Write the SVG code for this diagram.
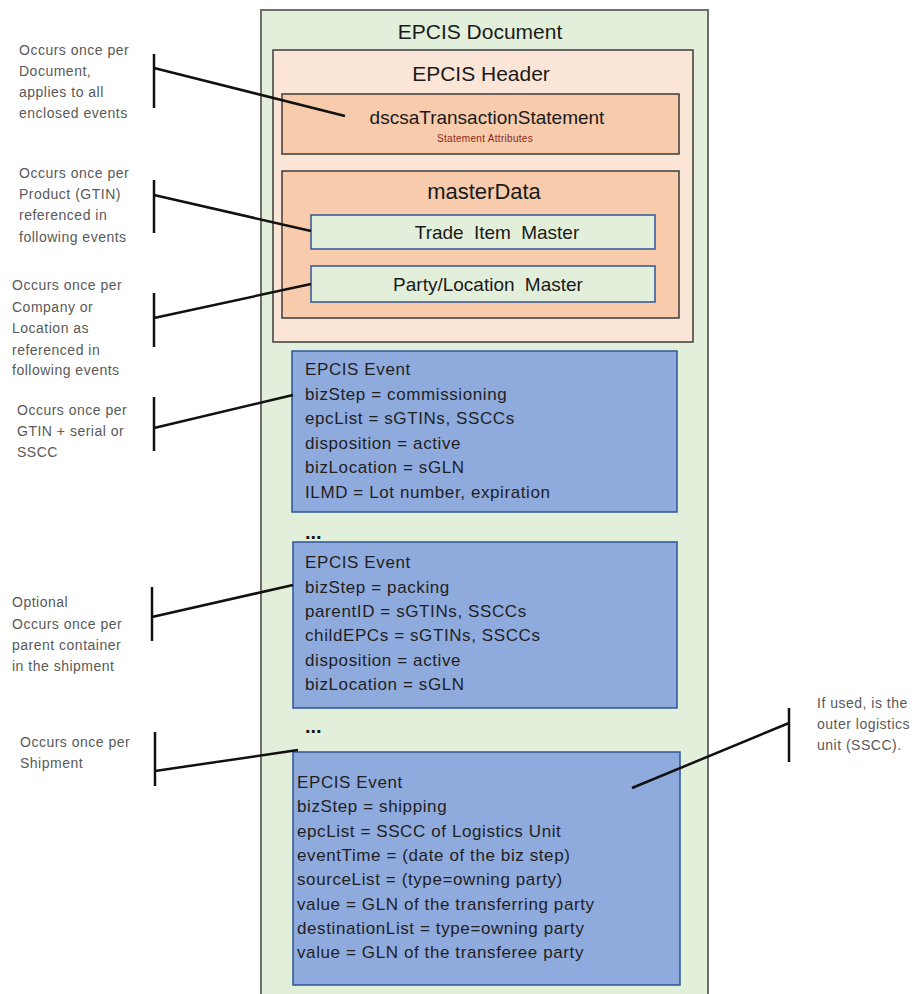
<svg xmlns="http://www.w3.org/2000/svg" width="920" height="994" viewBox="0 0 920 994">
<style>
.t{font-family:"Liberation Sans",Arial,sans-serif;fill:#1a1a1a}
.ann{font-family:"Liberation Sans",Arial,sans-serif;font-size:14px;fill:#595959;letter-spacing:0.5px}
.ev{font-family:"Liberation Sans",Arial,sans-serif;font-size:17px;fill:#1f1f1f;letter-spacing:0.6px}
.c{stroke:#111;stroke-width:2.5;fill:none}
</style>
<rect width="920" height="994" fill="#fff"/>
<g id="doc">
<rect x="261" y="10" width="447" height="1010" fill="#e2efda" stroke="#6e6e6e" stroke-width="2"/>
<text class="t" x="480" y="39" font-size="21" text-anchor="middle">EPCIS Document</text>
</g>
<g id="header">
<rect x="273" y="50" width="420" height="292" fill="#fbe5d6" stroke="#3c3c3c" stroke-width="1.5"/>
<text class="t" x="481" y="81" font-size="21" text-anchor="middle">EPCIS Header</text>
</g>
<g id="dscsa">
<rect x="282" y="94" width="397" height="60" fill="#f8cbad" stroke="#3c3c3c" stroke-width="1.5"/>
<text class="t" x="487" y="124" font-size="19" text-anchor="middle">dscsaTransactionStatement</text>
<text class="t" x="485" y="142" font-size="10" text-anchor="middle" letter-spacing="0.3" style="fill:#8b2a1a">Statement Attributes</text>
</g>
<g id="masterData">
<rect x="282" y="171" width="397" height="147" fill="#f8cbad" stroke="#3c3c3c" stroke-width="1.5"/>
<text class="t" x="484" y="199" font-size="22" text-anchor="middle">masterData</text>
</g>
<g id="tradeItem">
<rect x="311" y="215" width="344" height="34" fill="#e2efda" stroke="#2f5597" stroke-width="1.5"/>
<text class="t" x="497" y="239" font-size="19" text-anchor="middle" word-spacing="5">Trade Item Master</text>
</g>
<g id="partyLocation">
<rect x="311" y="266" width="344" height="36" fill="#e2efda" stroke="#2f5597" stroke-width="1.5"/>
<text class="t" x="488" y="291" font-size="19" text-anchor="middle" word-spacing="5">Party/Location Master</text>
</g>
<g id="event1">
<rect x="292" y="351" width="385" height="161" fill="#8faadc" stroke="#2f5597" stroke-width="1.5"/>
<text class="ev" x="305" y="375">EPCIS Event</text>
<text class="ev" x="305" y="400">bizStep = commissioning</text>
<text class="ev" x="305" y="424">epcList = sGTINs, SSCCs</text>
<text class="ev" x="305" y="449">disposition = active</text>
<text class="ev" x="305" y="473">bizLocation = sGLN</text>
<text class="ev" x="305" y="498">ILMD = Lot number, expiration</text>
</g>
<text class="t" x="305" y="539" font-size="20" font-weight="bold">...</text>
<g id="event2">
<rect x="293" y="542" width="384" height="166" fill="#8faadc" stroke="#2f5597" stroke-width="1.5"/>
<text class="ev" x="305" y="568">EPCIS Event</text>
<text class="ev" x="305" y="593">bizStep = packing</text>
<text class="ev" x="305" y="617">parentID = sGTINs, SSCCs</text>
<text class="ev" x="305" y="641">childEPCs = sGTINs, SSCCs</text>
<text class="ev" x="305" y="666">disposition = active</text>
<text class="ev" x="305" y="690">bizLocation = sGLN</text>
</g>
<text class="t" x="305" y="733" font-size="20" font-weight="bold">...</text>
<g id="event3">
<rect x="293" y="752" width="387" height="233" fill="#8faadc" stroke="#2f5597" stroke-width="1.5"/>
<text class="ev" x="297" y="788">EPCIS Event</text>
<text class="ev" x="297" y="812">bizStep = shipping</text>
<text class="ev" x="297" y="837">epcList = SSCC of Logistics Unit</text>
<text class="ev" x="297" y="861">eventTime = (date of the biz step)</text>
<text class="ev" x="297" y="885">sourceList = (type=owning party)</text>
<text class="ev" x="297" y="910">value = GLN of the transferring party</text>
<text class="ev" x="297" y="934">destinationList = type=owning party</text>
<text class="ev" x="297" y="958">value = GLN of the transferee party</text>
</g>
<g id="annotations">
<text class="ann" x="19" y="55">Occurs once per</text>
<text class="ann" x="19" y="76">Document,</text>
<text class="ann" x="19" y="97">applies to all</text>
<text class="ann" x="19" y="118">enclosed events</text>
<text class="ann" x="19" y="178">Occurs once per</text>
<text class="ann" x="19" y="199">Product (GTIN)</text>
<text class="ann" x="19" y="220">referenced in</text>
<text class="ann" x="19" y="242">following events</text>
<text class="ann" x="12" y="290">Occurs once per</text>
<text class="ann" x="12" y="312">Company or</text>
<text class="ann" x="12" y="333">Location as</text>
<text class="ann" x="12" y="355">referenced in</text>
<text class="ann" x="12" y="375">following events</text>
<text class="ann" x="17" y="415">Occurs once per</text>
<text class="ann" x="17" y="436">GTIN + serial or</text>
<text class="ann" x="17" y="457">SSCC</text>
<text class="ann" x="12" y="607">Optional</text>
<text class="ann" x="12" y="629">Occurs once per</text>
<text class="ann" x="12" y="650">parent container</text>
<text class="ann" x="12" y="671">in the shipment</text>
<text class="ann" x="20" y="747">Occurs once per</text>
<text class="ann" x="20" y="768">Shipment</text>
<text class="ann" x="817" y="708">If used, is the</text>
<text class="ann" x="817" y="729">outer logistics</text>
<text class="ann" x="817" y="750">unit (SSCC).</text>
</g>
<g id="connectors">
<path class="c" d="M154 54V108M154 68L345 116"/>
<path class="c" d="M154 180V233M154 195L311 231"/>
<path class="c" d="M154 293V347M154 318L311 284"/>
<path class="c" d="M154 397V451M154 428L293 395"/>
<path class="c" d="M152 587V641M152 617L293 585"/>
<path class="c" d="M155 732V786M155 771L298 750"/>
<path class="c" d="M789 708V762M789 723L632 788"/>
</g>
</svg>
